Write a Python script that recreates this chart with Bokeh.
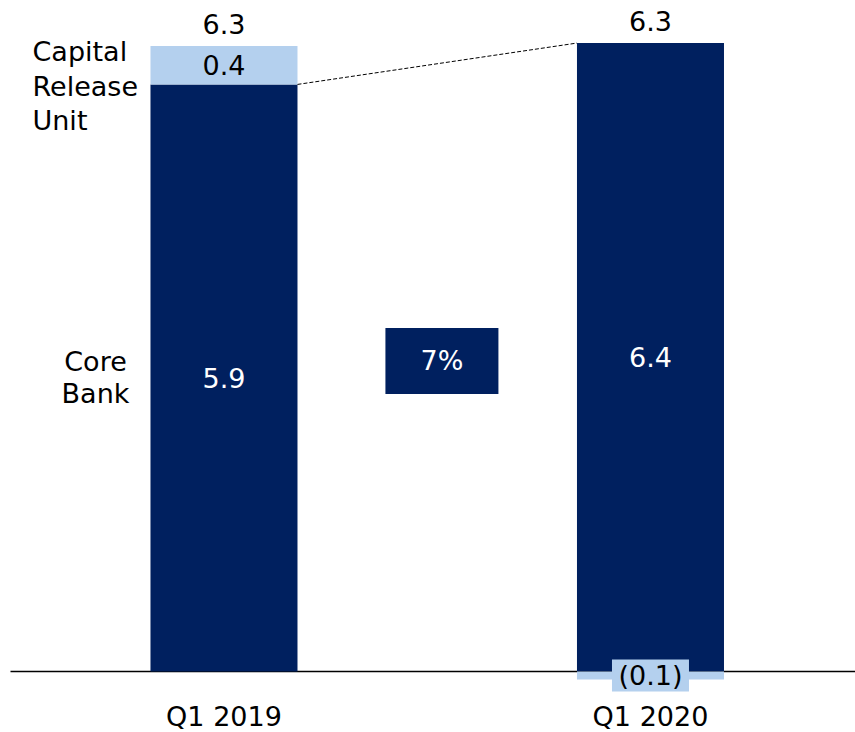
from bokeh.plotting import figure
from bokeh.models import Range1d, Span
from bokeh.core.properties import value
from bokeh.embed import file_html
from bokeh.resources import INLINE

# ---- data ----
categories = ["Q1 2019", "Q1 2020"]
core_bank = [5.96, 6.38]
capital_release = [0.39, -0.08]
core_labels = ["5.9", "6.4"]
cru_labels = ["0.4", "(0.1)"]
total_labels = ["6.3", "6.3"]
series_names = ["Core\nBank", "Capital\nRelease\nUnit"]
change_label = "7%"

NAVY = "#00205F"
LIGHT = "#B4D0EE"
FONT = value("DejaVu Sans")
FS = "27px"

xs = list(range(len(categories)))
bw = 0.3447
X0, X1 = -0.524, 1.4807
Y0, Y1 = -0.619, 6.812

p = figure(width=855, height=732, x_range=Range1d(X0, X1),
           y_range=Range1d(Y0, Y1), output_backend="svg",
           toolbar_location=None, min_border=0,
           x_axis_location=None, y_axis_location=None)
p.grid.visible = False
p.outline_line_color = None
p.background_fill_color = "white"

# baseline (starts slightly in from the left edge)
p.segment(x0=[X0 + 10 / 426.5], y0=[0], x1=[X1], y1=[0], line_color="#000000", line_width=1.5)

# stacked bars
cru_bottom = [c if v >= 0 else 0 for c, v in zip(core_bank, capital_release)]
cru_top = [c + v if v >= 0 else v for c, v in zip(core_bank, capital_release)]
totals = [c + max(v, 0) for c, v in zip(core_bank, capital_release)]

p.vbar(x=xs, bottom=0, top=core_bank, width=bw, fill_color=NAVY, line_color=None)
p.vbar(x=xs, bottom=cru_bottom, top=cru_top, width=bw, fill_color=LIGHT, line_color=None)

# dashed connector from top of Q1 2019 core to top of Q1 2020 bar
p.line(x=[xs[0] + bw / 2, xs[1] - bw / 2], y=[core_bank[0], totals[1]],
       line_color="#000000", line_width=1, line_dash="4 2")

# label box for the negative segment
neg_mid = [(b + t) / 2 for b, t in zip(cru_bottom, cru_top)]
p.rect(x=[xs[1]], y=[neg_mid[1]], width=77, height=32, width_units="screen",
       height_units="screen", fill_color=LIGHT, line_color=None)

# change box
mid_y = sum(totals) / len(totals) / 2 - 0.03
p.rect(x=[0.511], y=[mid_y], width=113, height=66, width_units="screen",
       height_units="screen", fill_color=NAVY, line_color=None)
p.text(x=[0.511], y=[mid_y], text=[change_label], text_align="center",
       text_baseline="middle", text_color="white", text_font=FONT, text_font_size=FS)

# segment labels
core_mid = [c / 2 for c in core_bank]
p.text(x=xs, y=core_mid, text=core_labels, text_align="center", text_baseline="middle",
       text_color="white", text_font=FONT, text_font_size=FS)
p.text(x=xs, y=neg_mid, text=cru_labels, text_align="center", text_baseline="middle",
       text_color="black", text_font=FONT, text_font_size=FS)

# totals
p.text(x=xs, y=totals, text=total_labels, text_align="center", text_baseline="middle",
       y_offset=-22, text_color="black", text_font=FONT, text_font_size=FS)

# category labels
p.text(x=xs, y=[0, 0], text=categories, text_align="center", text_baseline="middle",
       y_offset=45, text_color="black", text_font=FONT, text_font_size=FS)

# series names left of first bar
core_lines = series_names[0].split("\n")
cru_lines = series_names[1].split("\n")
for i, ln in enumerate(core_lines):
    off = (i - (len(core_lines) - 1) / 2) * 32
    p.text(x=[X0], y=[core_mid[0]], text=[ln], text_align="center", text_baseline="middle",
           x_offset=95, y_offset=off, text_color="black", text_font=FONT, text_font_size=FS)
for i, ln in enumerate(cru_lines):
    off = (i - (len(cru_lines) - 1) / 2) * 34.5
    p.text(x=[X0], y=[(cru_bottom[0] + cru_top[0]) / 2], text=[ln], text_align="left",
           text_baseline="middle", x_offset=32, y_offset=off + 21, text_color="black",
           text_font=FONT, text_font_size=FS)

open("out.html", "w").write(file_html(p, INLINE))
